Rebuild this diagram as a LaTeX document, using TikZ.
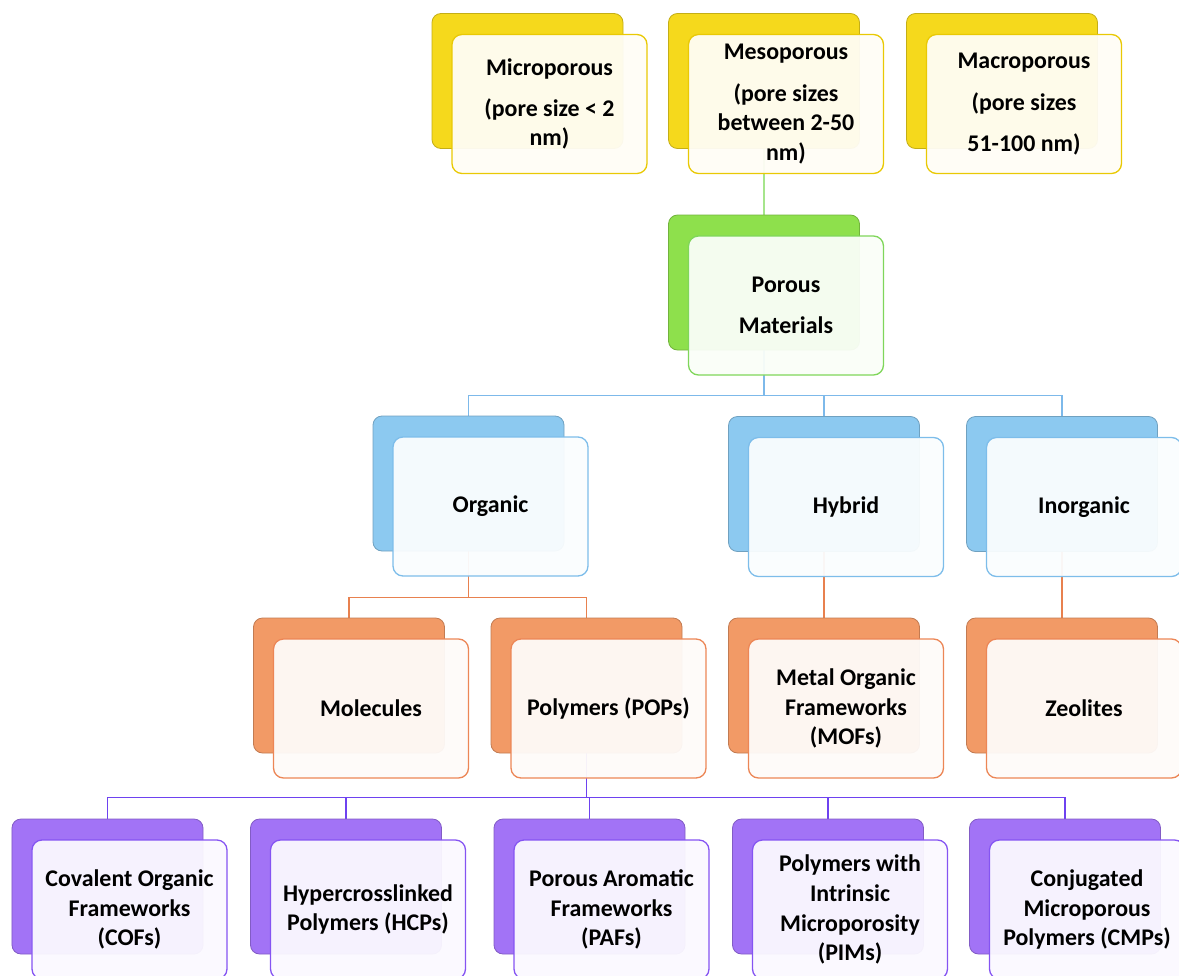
\documentclass[tikz,border=0pt]{standalone}
\usepackage{fontspec}
\setmainfont{Carlito}
\usetikzlibrary{backgrounds}

\definecolor{ylwback}{HTML}{F5D91C}
\definecolor{ylwedge}{HTML}{E9C904}
\definecolor{grnback}{HTML}{8EE04C}
\definecolor{grnedge}{HTML}{7FD65A}
\definecolor{bluback}{HTML}{8CC9F0}
\definecolor{bluedge}{HTML}{7DBDEA}
\definecolor{orgback}{HTML}{F29A66}
\definecolor{orgedge}{HTML}{EC8656}
\definecolor{purback}{HTML}{A273F6}
\definecolor{puredge}{HTML}{8554F2}
\definecolor{grnline}{HTML}{A6E58C}
\definecolor{bluline}{HTML}{7DB9EA}
\definecolor{orgline}{HTML}{E8814F}
\definecolor{purline}{HTML}{6E42F0}

\begin{document}
\begin{tikzpicture}[x=1bp, y=1bp, line join=round,
    shadowbox/.style={rectangle, rounded corners=9bp, minimum width=191bp,
        minimum height=135bp, fill=#1back, draw=#1back!80!black, line width=0.8bp},
    facebox/.style={rectangle, rounded corners=10bp, minimum width=195bp,
        minimum height=139bp, fill=#1back!4, fill opacity=0.95, text opacity=1,
        draw=#1edge, line width=1.3bp, align=center,
        font=\bfseries\fontsize{24}{30}\selectfont, xshift=22bp, yshift=-23bp},
    link/.style={draw=#1, line width=1.6bp}]
    \useasboundingbox (0,0) rectangle (1179,-976);
    % pore sizes
    \node[shadowbox=ylw] (micro-b) at (527.5,-81) {};
    \node[facebox=ylw] (micro) at (micro-b) {Microporous\\[11bp](pore size < 2\\nm)};
    \node[shadowbox=ylw] (meso-b) at (764,-81) {};
    \node[facebox=ylw] (meso) at (meso-b) {Mesoporous\\[12bp](pore sizes\\between 2-50\\nm)};
    \node[shadowbox=ylw] (macro-b) at (1002,-81) {};
    \node[facebox=ylw] (macro) at (macro-b) {Macroporous\\[12bp](pore sizes\\[11bp]51-100 nm)};
    % root
    \node[shadowbox=grn] (porous-b) at (764,-282.5) {};
    \node[facebox=grn] (porous) at (porous-b) {Porous\\[11bp]Materials};
    % classes
    \node[shadowbox=blu] (organic-b) at (468.5,-483.5) {};
    \node[facebox=blu] (organic) at (organic-b) {Organic};
    \node[shadowbox=blu] (hybrid-b) at (824,-484) {};
    \node[facebox=blu] (hybrid) at (hybrid-b) {Hybrid};
    \node[shadowbox=blu] (inorganic-b) at (1062,-484) {};
    \node[facebox=blu] (inorganic) at (inorganic-b) {Inorganic};
    % materials
    \node[shadowbox=org] (molec-b) at (349,-685.5) {};
    \node[facebox=org] (molec) at (molec-b) {Molecules};
    \node[shadowbox=org] (pops-b) at (586.5,-685.5) {};
    \node[facebox=org] (pops) at (pops-b) {Polymers (POPs)};
    \node[shadowbox=org] (mofs-b) at (824,-685.5) {};
    \node[facebox=org] (mofs) at (mofs-b) {Metal Organic\\Frameworks\\(MOFs)};
    \node[shadowbox=org] (zeo-b) at (1062,-685.5) {};
    \node[facebox=org] (zeo) at (zeo-b) {Zeolites};
    % polymer families
    \node[shadowbox=pur] (cofs-b) at (107.5,-886.5) {};
    \node[facebox=pur] (cofs) at (cofs-b) {Covalent Organic\\Frameworks\\(COFs)};
    \node[shadowbox=pur] (hcps-b) at (346,-886.5) {};
    \node[facebox=pur] (hcps) at (hcps-b) {Hypercrosslinked\\Polymers (HCPs)};
    \node[shadowbox=pur] (pafs-b) at (589.5,-886.5) {};
    \node[facebox=pur] (pafs) at (pafs-b) {Porous Aromatic\\Frameworks\\(PAFs)};
    \node[shadowbox=pur] (pims-b) at (828,-886.5) {};
    \node[facebox=pur] (pims) at (pims-b) {Polymers with\\Intrinsic\\Microporosity\\(PIMs)};
    \node[shadowbox=pur] (cmps-b) at (1065,-886.5) {};
    \node[facebox=pur] (cmps) at (cmps-b) {Conjugated\\Microporous\\Polymers (CMPs)};
    % connectors
    \begin{scope}[on background layer]
        \draw[link=grnline] (meso-b.south) -- (porous-b.north);
        \draw[link=bluline] (porous-b.south) -- ++(0,-45) coordinate (bus1);
        \draw[link=bluline] (bus1) -| (organic-b.north);
        \draw[link=bluline] (bus1) -| (hybrid-b.north);
        \draw[link=bluline] (bus1) -| (inorganic-b.north);
        \draw[link=orgline] (organic-b.south) -- ++(0,-46) coordinate (bus2);
        \draw[link=orgline] (bus2) -| (molec-b.north);
        \draw[link=orgline] (bus2) -| (pops-b.north);
        \draw[link=orgline] (hybrid-b.south) -- (mofs-b.north);
        \draw[link=orgline] (inorganic-b.south) -- (zeo-b.north);
        \draw[link=purline] (pops-b.south) -- ++(0,-44) coordinate (bus3);
        \draw[link=purline] (bus3) -| (cofs-b.north);
        \draw[link=purline] (bus3) -| (hcps-b.north);
        \draw[link=purline] (bus3) -| (pafs-b.north);
        \draw[link=purline] (bus3) -| (pims-b.north);
        \draw[link=purline] (bus3) -| (cmps-b.north);
    \end{scope}
\end{tikzpicture}
\end{document}
